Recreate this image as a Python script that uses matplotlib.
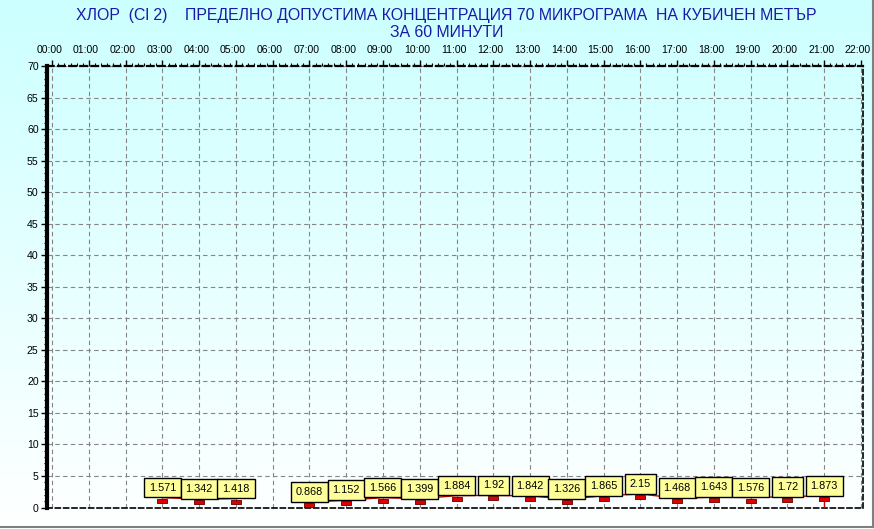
import numpy as np
import matplotlib
matplotlib.use("Agg")
import matplotlib.pyplot as plt
from matplotlib.transforms import offset_copy, ScaledTranslation
from matplotlib.ticker import MultipleLocator

# hourly values (hour 6 missing)
hours = [3, 4, 5, 6, 7, 8, 9, 10, 11, 12, 13, 14, 15, 16, 17, 18, 19, 20, 21]
values = [1.571, 1.342, 1.418, None, 0.868, 1.152, 1.566, 1.399, 1.884, 1.92,
          1.842, 1.326, 1.865, 2.15, 1.468, 1.643, 1.576, 1.72, 1.873]
labels = ["1.571", "1.342", "1.418", None, "0.868", "1.152", "1.566", "1.399",
          "1.884", "1.92", "1.842", "1.326", "1.865", "2.15", "1.468", "1.643",
          "1.576", "1.72", "1.873"]
xticklabels = ["%02d:00" % h for h in range(23)]

title1 = "ХЛОР  (Cl 2)    ПРЕДЕЛНО ДОПУСТИМА КОНЦЕНТРАЦИЯ 70 МИКРОГРАМА  НА КУБИЧЕН МЕТЪР"
title2 = "ЗА 60 МИНУТИ"

plt.rcParams['font.family'] = ['Liberation Sans', 'DejaVu Sans']

fig = plt.figure(figsize=(8.74, 5.29), dpi=100)

# background gradient (light cyan -> white)
bg = fig.add_axes([0, 0, 1, 1], zorder=-10)
grad = np.linspace(0, 1, 256).reshape(-1, 1)
top = np.array([0.80, 1.0, 1.0])
bot = np.array([1.0, 1.0, 1.0])
img = top[None, None, :] * (1 - grad[:, :, None]) + bot[None, None, :] * grad[:, :, None]
bg.imshow(img, aspect='auto', extent=[0, 1, 0, 1])
bg.set_xlim(0, 1)
bg.set_ylim(0, 1)
bg.axis('off')
# frame lines right / bottom
bg.plot([0, 0.9985], [0.003, 0.003], color='#808080', lw=1.5)
bg.plot([0.9985, 0.9985], [0.003, 1], color='#808080', lw=1.5)

ax = fig.add_axes([47 / 874, 1 - 507.5 / 529, (862.7 - 47) / 874, (507.5 - 66) / 529])
ax.set_facecolor('none')
ax.set_xlim(-0.14, 22.05)
ax.set_ylim(0, 70)

ax.set_xticks(range(23))
ax.set_xticklabels(xticklabels)
ax.xaxis.tick_top()
ax.xaxis.set_minor_locator(MultipleLocator(1 / 6))
ax.set_yticks(range(0, 71, 5))
ax.yaxis.set_minor_locator(MultipleLocator(1))
ax.tick_params(axis='both', which='major', labelsize=7.6, length=4, width=1, pad=2)
ax.tick_params(axis='x', which='major', pad=4)
ax.tick_params(axis='both', which='minor', length=2, width=0.8)
# labels sit a little left of their gridline in the reference
shift = ScaledTranslation(-3 / 100, 0, fig.dpi_scale_trans)
for lab in ax.get_xticklabels():
    lab.set_transform(lab.get_transform() + shift)

ax.grid(True, which='major', color='#858585', linestyle=(0, (4, 3)), lw=0.8)

for side in ['top', 'right', 'bottom']:
    ax.spines[side].set_linestyle((0, (3, 2)))
    ax.spines[side].set_linewidth(1.2)
    ax.spines[side].set_color('black')
ax.spines['top'].set_linewidth(1.6)
ax.spines['left'].set_linewidth(3)

# red connecting line
y = [np.nan if v is None else v for v in values]
ax.plot(hours, y, color='#c00000', lw=1, zorder=3)
ax.vlines(hours[-1], 0, values[-1], color='#d00000', lw=1, zorder=3)

# flat rectangular markers hanging just below the value
rect = [(-1, -0.55), (1, -0.55), (1, 0.55), (-1, 0.55), (-1, -0.55)]
tr = offset_copy(ax.transData, fig=fig, x=0, y=-3, units='dots')
ax.plot(hours, y, linestyle='none', marker=rect, markersize=6.5, color='#dd0000',
        markeredgecolor='#600000', markeredgewidth=0.6, transform=tr, zorder=4)

for h, v, t in zip(hours, values, labels):
    if v is None:
        continue
    ax.annotate(t, (h, v), xytext=(0, 5), textcoords='offset pixels',
                ha='center', va='bottom', fontsize=7.8, zorder=5,
                bbox=dict(boxstyle='square,pad=0.45', fc='#ffff99', ec='black', lw=1))

fig.text(0.511, 0.9716, title1, ha='center', va='center', fontsize=11.4, color='#1a1aa8')
fig.text(0.511, 0.9395, title2, ha='center', va='center', fontsize=11.4, color='#1a1aa8')

fig.savefig("out.png", dpi=100)
